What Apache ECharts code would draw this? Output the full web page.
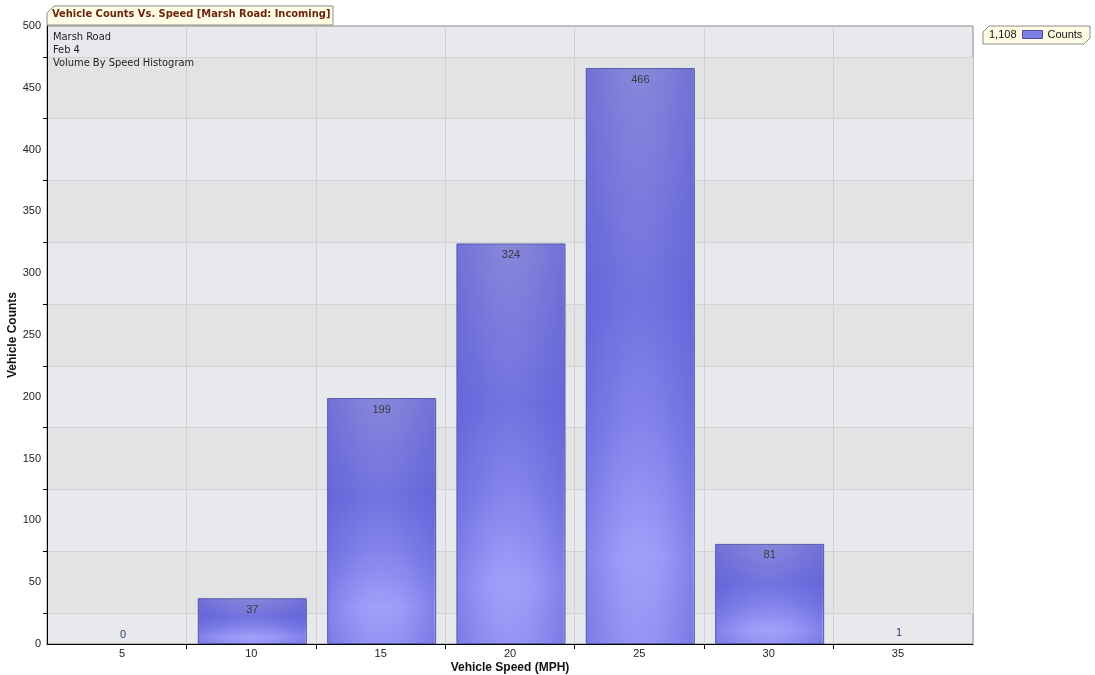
<!DOCTYPE html>
<html>
<head>
<meta charset="utf-8">
<script src="https://cdn.jsdelivr.net/npm/echarts@6/dist/echarts.min.js"></script>
<style>
  html, body { margin: 0; padding: 0; background: #fff; }
  #chart { width: 1095px; height: 675px; }
</style>
</head>
<body>
<div id="chart"></div>
<script>
// speed bins (MPH) and vehicle counts
const speeds = [5, 10, 15, 20, 25, 30, 35];
const counts = [0, 37, 199, 324, 466, 81, 1];
const yLabels = [0, 50, 100, 150, 200, 250, 300, 350, 400, 450, 500];
const yTicks = [25, 75, 125, 175, 225, 275, 325, 375, 425, 475];
const xTicks = [7.5, 12.5, 17.5, 22.5, 27.5, 32.5];

const total = counts.reduce((a, b) => a + b, 0);
const fontFamily = 'Liberation Sans, Arial, sans-serif';

// base fill: dark band in the upper middle, lighter toward the bottom
const barFill = {
  type: 'linear', x: 0, y: 0, x2: 0, y2: 1,
  colorStops: [
    { offset: 0, color: '#8484d8' },
    { offset: 0.4, color: '#7070de' },
    { offset: 0.62, color: '#8282ea' },
    { offset: 0.85, color: '#a0a0fa' },
    { offset: 1, color: '#9494f2' }
  ]
};
// overlay: darker side edges
const edgeShade = {
  type: 'linear', x: 0, y: 0, x2: 1, y2: 0,
  colorStops: [
    { offset: 0, color: 'rgba(90,90,215,0.45)' },
    { offset: 0.25, color: 'rgba(90,90,215,0.12)' },
    { offset: 0.5, color: 'rgba(170,170,255,0.05)' },
    { offset: 0.75, color: 'rgba(90,90,215,0.12)' },
    { offset: 1, color: 'rgba(90,90,215,0.45)' }
  ]
};

const barData = speeds.map((s, i) => {
  const small = counts[i] < 10;
  return {
    value: [s, counts[i]],
    itemStyle: small ? { borderWidth: 0, color: 'rgba(0,0,0,0)' } : {},
    label: small
      ? { position: 'top', distance: 4, color: '#3a3a78' }
      : { position: 'insideTop', distance: 6, color: '#333' }
  };
});

const chart = echarts.init(document.getElementById('chart'));
chart.setOption({
  animation: false,
  textStyle: { fontFamily: fontFamily },
  title: [
    {
      text: 'Vehicle Counts Vs. Speed [Marsh Road: Incoming]',
      left: 52, top: 9, padding: 0,
      textStyle: { fontSize: 11, fontWeight: 'bold', color: '#6b2410', fontFamily: 'DejaVu Sans Condensed' }
    },
    {
      text: 'Marsh Road\nFeb 4\nVolume By Speed Histogram',
      left: 53, top: 31, padding: 0,
      textStyle: { fontSize: 11, fontWeight: 'normal', color: '#222', lineHeight: 13, fontFamily: 'DejaVu Sans Condensed' }
    }
  ],
  graphic: [
    {
      type: 'polygon', z: -1,
      shape: { points: [[47, 13], [54, 6], [333, 6], [333, 25], [47, 25]] },
      style: { fill: '#fffde4', stroke: '#8c8c8c', lineWidth: 1 }
    },
    {
      type: 'polygon', z: -1,
      shape: { points: [[983, 32], [989, 26], [1090, 26], [1090, 38], [1084, 44], [983, 44]] },
      style: { fill: '#fffde4', stroke: '#8c8c8c', lineWidth: 1 }
    },
    {
      type: 'text', left: 989, top: 29,
      style: { text: total.toLocaleString('en-US'), font: '11px ' + fontFamily, fill: '#111' }
    }
  ],
  legend: {
    left: 1022, top: 29, padding: 0,
    itemWidth: 20, itemHeight: 8, itemGap: 4,
    textStyle: { fontSize: 11, color: '#111' },
    data: [{ name: 'Counts', icon: 'rect', itemStyle: { color: '#7e7ee6', borderColor: '#4a4a9a', borderWidth: 1 } }]
  },
  grid: {
    left: 47, right: 122, top: 26, bottom: 31,
    outerBoundsMode: 'none', containLabel: false,
    show: true, backgroundColor: '#e7e9ec', borderColor: '#8a8a8a', borderWidth: 1
  },
  xAxis: {
    type: 'value', min: 2.1, max: 37.9,
    name: 'Vehicle Speed (MPH)', nameLocation: 'middle', nameGap: 18, nameMoveOverlap: false,
    nameTextStyle: { fontSize: 12, fontWeight: 'bold', color: '#111' },
    axisLine: { show: true, lineStyle: { color: '#000', width: 1 } },
    axisTick: { show: true, length: 5, lineStyle: { color: '#000' }, customValues: xTicks },
    axisLabel: { fontSize: 11, color: '#222', margin: 4, customValues: speeds },
    splitLine: { show: true, lineStyle: { color: '#d2d2d2' } }
  },
  yAxis: {
    type: 'value', min: 0, max: 500,
    name: 'Vehicle Counts', nameLocation: 'middle', nameGap: 28, nameMoveOverlap: false,
    nameTextStyle: { fontSize: 12, fontWeight: 'bold', color: '#111' },
    axisLine: { show: true, lineStyle: { color: '#000', width: 1 } },
    axisTick: { show: true, length: 4, lineStyle: { color: '#000' }, customValues: yTicks },
    axisLabel: { fontSize: 11, color: '#222', margin: 6, customValues: yLabels },
    splitLine: { show: true, lineStyle: { color: '#d2d2d2' } },
    splitArea: { show: true, areaStyle: { color: ['#e2e3e5', '#e7e9ec'] } }
  },
  series: [
    {
      name: 'Counts',
      type: 'bar',
      barWidth: 109,
      data: barData,
      itemStyle: { color: barFill, borderColor: '#5a5a9c', borderWidth: 1 },
      label: { show: true, fontSize: 11, formatter: p => p.value[1] },
      z: 2
    },
    {
      name: 'shade',
      type: 'bar',
      barWidth: 107,
      barGap: '-100%',
      silent: true,
      data: speeds.map((s, i) => (counts[i] < 10 ? [s, 0] : [s, counts[i]])),
      itemStyle: { color: edgeShade },
      z: 3
    }
  ]
});
</script>
</body>
</html>
